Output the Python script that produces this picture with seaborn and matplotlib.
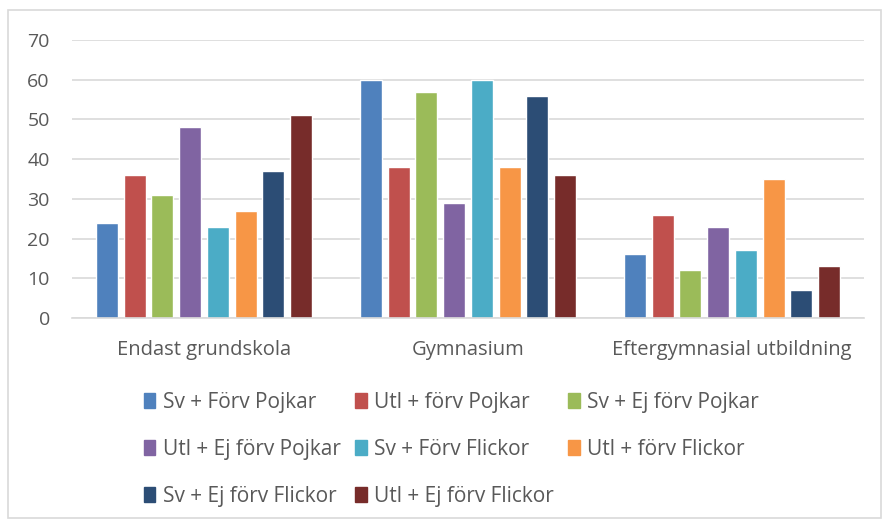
import matplotlib
matplotlib.use("Agg")
import matplotlib.pyplot as plt
import matplotlib.patches as mpatches
import pandas as pd
import seaborn as sns

categories = ["Endast grundskola", "Gymnasium", "Eftergymnasial utbildning"]
series = [
    "Sv + Förv Pojkar",
    "Utl + förv Pojkar",
    "Sv + Ej förv Pojkar",
    "Utl + Ej förv Pojkar",
    "Sv + Förv Flickor",
    "Utl + förv Flickor",
    "Sv + Ej förv Flickor",
    "Utl + Ej förv Flickor",
]
values = [
    [24, 60, 16],
    [36, 38, 26],
    [31, 57, 12],
    [48, 29, 23],
    [23, 60, 17],
    [27, 38, 35],
    [37, 56, 7],
    [51, 36, 13],
]
colors = ["#4F81BD", "#C0504D", "#9BBB59", "#8064A2",
          "#4BACC6", "#F79646", "#2C4D75", "#772C2A"]

rows = []
for name, vals in zip(series, values):
    for cat, v in zip(categories, vals):
        rows.append({"category": cat, "series": name, "value": v})
df = pd.DataFrame(rows)

sns.set_style("white")
plt.rcParams["font.family"] = ["Open Sans", "DejaVu Sans"]
text_color = "#595959"
grid_color = "#D9D9D9"

fig = plt.figure(figsize=(8.84, 5.2), dpi=100)
ax = fig.add_axes([72 / 884, 1 - 318 / 520, 792 / 884, 278 / 520])

sns.barplot(data=df, x="category", y="value", hue="series",
            hue_order=series, order=categories, palette=colors,
            width=0.84, gap=0.21, saturation=1, ax=ax, legend=False)

ax.set_ylim(0, 70)
ax.set_yticks(range(0, 71, 10))
ax.set_xlim(-0.5, 2.5)
ax.yaxis.grid(True, color=grid_color, linewidth=1.2)
ax.set_axisbelow(True)
for s in ["top", "right", "left"]:
    ax.spines[s].set_visible(False)
ax.spines["bottom"].set_color(grid_color)
ax.spines["bottom"].set_linewidth(1.2)
ax.tick_params(axis="both", length=0, colors=text_color, labelsize=14)
ax.tick_params(axis="x", pad=16, labelsize=14.5)
ax.tick_params(axis="y", pad=16)
ax.set_xlabel("")
ax.set_ylabel("")

# legend filled row by row like the original
handles = [mpatches.Patch(color=c, label=n) for c, n in zip(colors, series)]
order = [0, 3, 6, 1, 4, 7, 2, 5]
handles = [handles[i] for i in order]
fig.legend(handles=handles, ncol=3, loc="upper left",
           bbox_to_anchor=(144 / 884, 1 - 392 / 520), frameon=False,
           fontsize=15, labelcolor=text_color, handlelength=0.55,
           handleheight=0.75, handletextpad=0.35, columnspacing=0.7,
           labelspacing=1.25, borderpad=0, borderaxespad=0)

border = mpatches.Rectangle((8 / 884, 2 / 520), 873 / 884, 508 / 520,
                            transform=fig.transFigure, fill=False,
                            edgecolor=grid_color, linewidth=1.2)
fig.patches.append(border)

fig.savefig("out.png", dpi=100)
